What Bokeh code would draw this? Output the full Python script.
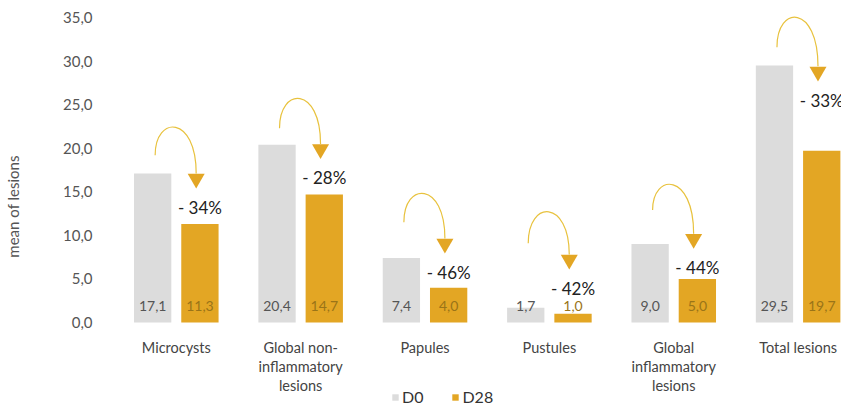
from bokeh.plotting import figure
from bokeh.models import (ColumnDataSource, FixedTicker, Range1d, Legend, LegendItem)
from bokeh.core.properties import value
from bokeh.embed import file_html
from bokeh.resources import INLINE

# --- data -------------------------------------------------------------
categories = ["Microcysts", "Global non-\ninflammatory\nlesions", "Papules",
              "Pustules", "Global\ninflammatory\nlesions", "Total lesions"]
d0 = [17.1, 20.4, 7.4, 1.7, 9.0, 29.5]
d28 = [11.3, 14.7, 4.0, 1.0, 5.0, 19.7]
reduction_pct = [34, 28, 46, 42, 44, 33]
y_ticks = [0, 5, 10, 15, 20, 25, 30, 35]

# --- annotation placement (data units) ---------------------------------
pct_label_y = [13.2, 16.6, 5.75, 3.9, 6.3, 25.5]
arc_start_y = [19.2, 22.3, 11.5, 9.1, 12.9, 31.6]
arc_apex_y = [22.4, 25.7, 14.8, 12.7, 15.8, 35.0]
category_label_y = -1.85   # top of the category names, below the baseline

FONT = "Lato"
GREY = "#dcdcdc"
GOLD = "#e3a624"
ARC = "#e8c23e"

n = len(categories)
xs = list(range(n))
off, bw = 0.19, 0.30

fmt = lambda v: f"{v:.1f}".replace(".", ",")

p = figure(width=841, height=408, output_backend="svg", toolbar_location=None,
           x_range=Range1d(-0.529, 5.349), y_range=Range1d(-9.87, 36.5),
           min_border_left=108, min_border_right=0, min_border_top=4,
           min_border_bottom=0)
p.outline_line_color = None
p.xgrid.visible = False
p.ygrid.visible = False
p.xaxis.visible = False
p.background_fill_color = "white"
p.border_fill_color = "white"

bars = ColumnDataSource(dict(
    x0=[x - off for x in xs], x1=[x + off for x in xs], d0=d0, d28=d28,
    t0=[fmt(v) for v in d0], t1=[fmt(v) for v in d28],
    ly=[1.95] * n))

r0 = p.vbar(x="x0", top="d0", width=bw, bottom=0, source=bars,
            fill_color=GREY, line_color=None)
r1 = p.vbar(x="x1", top="d28", width=bw, bottom=0, source=bars,
            fill_color=GOLD, line_color=None)

p.text(x="x0", y="ly", text="t0", source=bars, text_font=value(FONT),
       text_font_size="14px", text_color="#555555", text_align="center",
       text_baseline="middle")
p.text(x="x1", y="ly", text="t1", source=bars, text_font=value(FONT),
       text_font_size="14px", text_color="#9a7418", text_align="center",
       text_baseline="middle")

# category names under each pair of bars
cats = ColumnDataSource(dict(x=xs, y=[category_label_y] * n, t=categories))
p.text(x="x", y="y", text="t", source=cats, text_font=value(FONT),
       text_font_size="14.5px", text_color="#444444", text_align="center",
       text_baseline="top", text_line_height=1.12)

# reduction arrows: curved arc from the D0 bar over to the D28 bar
tip_y = [v + 2.15 for v in pct_label_y]
head_top = [v + 1.75 for v in tip_y]
ctrl = [(a - (s + h) / 8.0) / 0.75 for a, s, h in zip(arc_apex_y, arc_start_y, head_top)]
arcs = ColumnDataSource(dict(
    x0=[x - 0.17 for x in xs], y0=arc_start_y,
    x1=[x + 0.16 for x in xs], y1=head_top,
    cx0=[x - 0.17 for x in xs], cy0=ctrl,
    cx1=[x + 0.16 for x in xs], cy1=ctrl,
    hx=[x + 0.16 for x in xs], hy=[v + 1.15 for v in tip_y],
    px=[x + off for x in xs], py=pct_label_y,
    pt=[f"- {v}%" for v in reduction_pct]))
p.bezier(x0="x0", y0="y0", x1="x1", y1="y1", cx0="cx0", cy0="cy0",
         cx1="cx1", cy1="cy1", source=arcs, line_color=ARC, line_width=1.2)
p.scatter(x="hx", y="hy", source=arcs, marker="inverted_triangle", size=17,
          fill_color=GOLD, line_color=None)
p.text(x="px", y="py", text="pt", source=arcs, text_font=value(FONT),
       text_font_size="17px", text_color="#222222", text_align="center",
       text_baseline="middle")

# value axis
p.yaxis.ticker = FixedTicker(ticks=y_ticks)
p.yaxis.major_label_overrides = {t: fmt(t) for t in y_ticks}
p.yaxis.axis_line_color = None
p.yaxis.major_tick_line_color = None
p.yaxis.minor_tick_line_color = None
p.yaxis.major_label_standoff = 12
p.yaxis.major_label_text_font = FONT
p.yaxis.major_label_text_font_size = "15px"
p.yaxis.major_label_text_color = "#555555"
p.yaxis.axis_label = "mean of lesions"
p.yaxis.axis_label_text_font = FONT
p.yaxis.axis_label_text_font_size = "15px"
p.yaxis.axis_label_text_font_style = "normal"
p.yaxis.axis_label_text_color = "#555555"
p.yaxis.axis_label_standoff = 38

legend = Legend(items=[LegendItem(label="D0", renderers=[r0]),
                       LegendItem(label="D28", renderers=[r1])],
                orientation="horizontal", location=(281, 2),
                glyph_width=8, glyph_height=8, label_standoff=3, spacing=28,
                padding=0, margin=0, border_line_color=None,
                background_fill_alpha=0, label_text_font=FONT,
                label_text_font_size="16px", label_text_color="#333333",
                label_height=16)
p.add_layout(legend)

open("out.html", "w").write(file_html(p, INLINE))
